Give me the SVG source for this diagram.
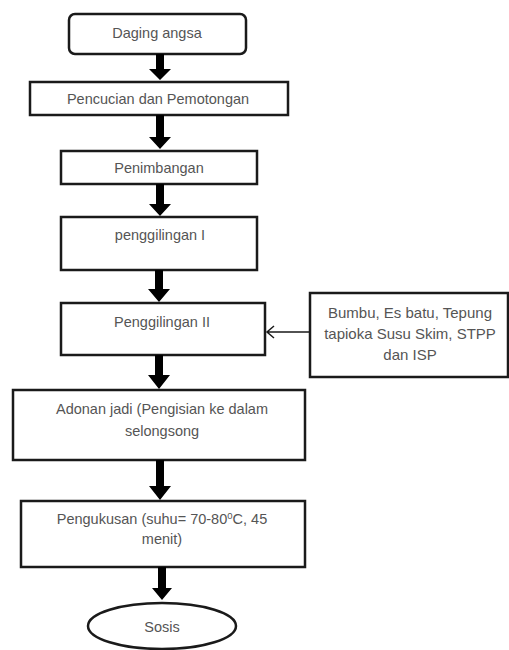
<svg xmlns="http://www.w3.org/2000/svg" width="509" height="650" viewBox="0 0 509 650">
<defs>
<style>
.box{fill:#fff;stroke:#1a1a1a;stroke-width:2.5}
.t{font-family:"Liberation Sans",Arial,sans-serif;font-size:14.5px;fill:#555;text-anchor:middle}
.s{font-size:15px}
.arr{fill:#000}
.thin{stroke:#1a1a1a;stroke-width:1.5;fill:none}
</style>
</defs>
<rect width="509" height="650" fill="#fff"/>
<g id="n1"><rect class="box" x="69" y="14" width="177" height="40" rx="6"/><text class="t" x="157" y="38">Daging angsa</text></g>
<g id="n2"><rect class="box" x="30" y="82" width="258" height="33"/><text class="t" x="158" y="104">Pencucian dan Pemotongan</text></g>
<g id="n3"><rect class="box" x="61" y="151" width="196" height="33"/><text class="t" x="159" y="173">Penimbangan</text></g>
<g id="n4"><rect class="box" x="61" y="217" width="196" height="53"/><text class="t" x="160" y="240">penggilingan I</text></g>
<g id="n5"><rect class="box" x="61" y="303" width="204" height="52"/><text class="t" x="162" y="327">Penggilingan II</text></g>
<g id="n6"><rect class="box" x="310" y="293" width="198" height="84"/><text class="t s" x="410" y="318">Bumbu, Es batu, Tepung</text><text class="t s" x="410" y="339">tapioka Susu Skim, STPP</text><text class="t s" x="410" y="360">dan ISP</text></g>
<g id="n7"><rect class="box" x="13" y="390" width="292" height="70"/><text class="t" x="162" y="414">Adonan jadi (Pengisian ke dalam</text><text class="t" x="162" y="436">selongsong</text></g>
<g id="n8"><rect class="box" x="21" y="501" width="284" height="66"/><text class="t" x="162" y="524">Pengukusan (suhu= 70-80<tspan font-size="9.5" dy="-5">0</tspan><tspan dy="5">C, 45</tspan></text><text class="t" x="162" y="544">menit)</text></g>
<g id="n9"><ellipse class="box" cx="162" cy="626" rx="74" ry="23"/><text class="t" x="162" y="632">Sosis</text></g>
<g id="connectors">
<polygon class="arr" points="156,54 164,54 164,69 171,69 160,80 149,69 156,69"/>
<polygon class="arr" points="156,115 164,115 164,137 171,137 160,149 149,137 156,137"/>
<polygon class="arr" points="156,184 164,184 164,204 171,204 160,216 149,204 156,204"/>
<polygon class="arr" points="155,270 163,270 163,289 170,289 159,302 148,289 155,289"/>
<polygon class="arr" points="155,355 163,355 163,375 170,375 159,389 148,375 155,375"/>
<polygon class="arr" points="156,460 164,460 164,486 171,486 160,500 149,486 156,486"/>
<polygon class="arr" points="158,567 166,567 166,588 172,588 162,600 152,588 158,588"/>
<path class="thin" d="M310,332 H267 M274,326 L267,332 L274,338"/>
</g>
</svg>
